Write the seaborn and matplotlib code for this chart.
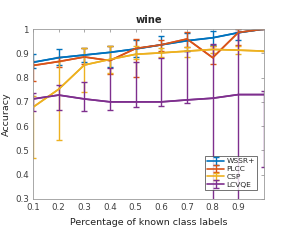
import numpy as np
import pandas as pd
import matplotlib
matplotlib.use("Agg")
import matplotlib.pyplot as plt
import seaborn as sns

x = [0.1, 0.2, 0.3, 0.4, 0.5, 0.6, 0.7, 0.8, 0.9, 1.0]
methods = ["WSSR+", "PLCC", "CSP", "LCVQE"]

wssr = [0.863, 0.882, 0.893, 0.904, 0.918, 0.935, 0.952, 0.964, 0.985, 1.0]
wssr_lo = [0.838, 0.850, 0.865, 0.842, 0.885, 0.905, 0.910, 0.934, 0.955, 1.0]
wssr_hi = [0.896, 0.916, 0.920, 0.930, 0.955, 0.971, 0.985, 0.990, 1.0, 1.0]

plcc = [0.850, 0.866, 0.885, 0.870, 0.920, 0.935, 0.959, 0.882, 0.986, 1.0]
plcc_lo = [0.787, 0.845, 0.855, 0.815, 0.804, 0.910, 0.927, 0.855, 0.934, 1.0]
plcc_hi = [0.868, 0.885, 0.920, 0.931, 0.959, 0.955, 0.986, 0.930, 1.0, 1.0]

csp = [0.678, 0.752, 0.852, 0.875, 0.896, 0.902, 0.909, 0.916, 0.913, 0.909]
csp_lo = [0.470, 0.543, 0.742, 0.820, 0.875, 0.885, 0.885, 0.900, 0.896, 0.909]
csp_hi = [0.726, 0.870, 0.920, 0.930, 0.930, 0.920, 0.925, 0.930, 0.930, 0.909]

lcvqe = [0.712, 0.728, 0.712, 0.700, 0.700, 0.700, 0.708, 0.715, 0.730, 0.730]
lcvqe_lo = [0.662, 0.667, 0.662, 0.667, 0.680, 0.684, 0.697, 0.250, 0.250, 0.432]
lcvqe_hi = [0.735, 0.770, 0.780, 0.838, 0.863, 0.882, 0.909, 0.937, 0.986, 0.746]

colors = ["#0072BD", "#D95319", "#EDB120", "#7E2F8E"]

sns.set_style("white")
plt.rcParams["font.family"] = ["DejaVu Sans"]

fig = plt.figure(figsize=(2.87, 2.40), dpi=100)
ax = fig.add_axes([0.115, 0.171, 0.805, 0.708])

series = [(wssr, wssr_lo, wssr_hi), (plcc, plcc_lo, plcc_hi),
          (csp, csp_lo, csp_hi), (lcvqe, lcvqe_lo, lcvqe_hi)]
rows = []
for m, (v, lo, hi) in zip(methods, series):
    for xi, vi in zip(x, v):
        rows.append({"x": xi, "acc": vi, "method": m})
df = pd.DataFrame(rows)

sns.lineplot(data=df, x="x", y="acc", hue="method", palette=colors,
             linewidth=1.2, ax=ax, legend=False, errorbar=None)

handles = []
for m, (v, lo, hi), c in zip(methods, series, colors):
    v = np.array(v); lo = np.array(lo); hi = np.array(hi)
    h = ax.errorbar(x, v, yerr=[v - lo, hi - v], color=c, linewidth=1.2,
                    elinewidth=1.0, capsize=2.2, capthick=1.0, label=m)
    handles.append(h)

ax.set_xlim(0.1, 1.0)
ax.set_ylim(0.3, 1.0)
ax.set_xticks([0.1, 0.2, 0.3, 0.4, 0.5, 0.6, 0.7, 0.8, 0.9])
ax.set_xticklabels(["0.1", "0.2", "0.3", "0.4", "0.5", "0.6", "0.7", "0.8", "0.9"])
ax.set_yticks([0.3, 0.4, 0.5, 0.6, 0.7, 0.8, 0.9, 1.0])
ax.set_yticklabels(["0.3", "0.4", "0.5", "0.6", "0.7", "0.8", "0.9", "1"])
ax.tick_params(direction="in", length=2.5, width=0.6, labelsize=6.3,
               colors="#9a9a9a", labelcolor="#404040", top=True, right=True, pad=3)
for s in ax.spines.values():
    s.set_color("#9a9a9a")
    s.set_linewidth(0.6)

ax.set_xlabel("Percentage of known class labels", fontsize=6.8, color="#222222", labelpad=4)
ax.set_ylabel("Accuracy", fontsize=6.8, color="#222222", labelpad=3)
ax.set_title("wine", fontsize=7.2, fontweight="bold", pad=4)

leg = ax.legend(handles=handles, labels=methods, loc="lower right",
                bbox_to_anchor=(0.97, 0.055), fontsize=5.4, frameon=True,
                fancybox=False, handlelength=2.3, borderpad=0.25,
                labelspacing=0.2, handletextpad=0.3, borderaxespad=0)
leg.get_frame().set_edgecolor("#333333")
leg.get_frame().set_linewidth(0.6)

fig.savefig("out.png", dpi=100)
